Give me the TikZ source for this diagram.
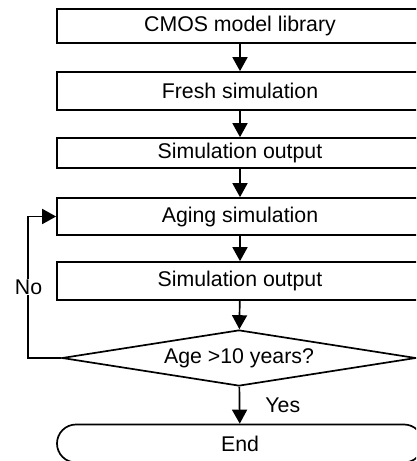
\documentclass[tikz,border=0pt]{standalone}
\usepackage{fontspec}
\setmainfont{Liberation Sans}
\usetikzlibrary{shapes.geometric,shapes.misc,arrows.meta}
\begin{document}
\begin{tikzpicture}[x=1bp,y=-1bp,
  every node/.style={font=\fontsize{21.3bp}{25bp}\selectfont},
  procbox/.style={draw, line width=1.7bp, minimum width=366bp, inner sep=0pt},
  decbox/.style={draw, diamond, line width=1.7bp, minimum width=354bp, minimum height=56bp, shape aspect=6.3, inner sep=0pt},
  termbox/.style={draw, rounded rectangle, line width=1.7bp, minimum width=366bp, minimum height=38bp, inner sep=0pt},
  arr/.style={line width=1.7bp, -{Triangle[width=15bp,length=14bp]}},
  lbl/.style={fill=white, inner sep=1bp}]
\clip (0,0) rectangle (416,461);
\fill[white] (0,0) rectangle (416,461);
\node[procbox, minimum height=34bp] (lib) at (240,26) {CMOS model library};
\node[procbox, minimum height=38bp] (fresh) at (240,91) {Fresh simulation};
\node[procbox, minimum height=30bp] (out1) at (240,153) {Simulation output};
\node[procbox, minimum height=37bp] (aging) at (240,216.5) {Aging simulation};
\node[procbox, minimum height=38bp] (out2) at (240,281) {Simulation output};
\node[decbox] (dec) at (239,358) {Age >10 years?};
\node[termbox] (end) at (240,443.5) {End};
\draw[arr] (lib) -- (fresh);
\draw[arr] (fresh) -- (out1);
\draw[arr] (out1) -- (aging);
\draw[arr] (aging) -- (out2);
\draw[arr] (out2) -- (dec);
\draw[arr] (dec) -- node[right, inner sep=0pt, xshift=25bp, pos=0.5] (yes) {Yes} (end);
\coordinate (lc) at (28,358);
\draw[arr] (dec.west) -- (lc) |- (aging.west);
\node[lbl] (no) at (28.5,287) {No};
\end{tikzpicture}
\end{document}
